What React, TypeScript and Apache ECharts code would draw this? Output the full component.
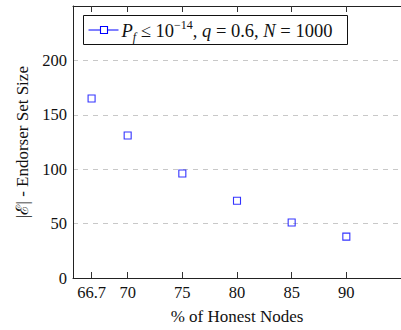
import React, { useEffect, useRef } from "react";
import * as echarts from "echarts";

const honestPct = [66.7, 70, 75, 80, 85, 90];
const endorserSize = [165, 131, 96, 71, 51, 38];
const xTicks = [66.7, 70, 75, 80, 85, 90];
const yTicks = [0, 50, 100, 150, 200];

const FONT = "Liberation Serif";

export default function App() {
  const ref = useRef<HTMLDivElement>(null);
  useEffect(() => {
    if (!ref.current) return;
    const chart = echarts.init(ref.current, null, { renderer: "svg" });
    const axisLineStyle = { color: "#222", width: 1 };
    const tickStyle = { color: "#333", width: 1 };
    chart.setOption({
      animation: false,
      backgroundColor: "#fff",
      grid: { left: 73, top: 6, right: -9, bottom: 44, containLabel: false },
      xAxis: [
        {
          type: "value",
          min: 65,
          max: 95,
          position: "bottom",
          name: "% of Honest Nodes",
          nameLocation: "middle",
          nameGap: 30,
          nameTextStyle: { fontFamily: FONT, fontSize: 17, color: "#111" },
          axisLine: { show: true, onZero: false, lineStyle: axisLineStyle },
          axisTick: { show: true, inside: true, length: 6, customValues: xTicks, lineStyle: tickStyle },
          axisLabel: {
            customValues: xTicks,
            fontFamily: FONT,
            fontSize: 16.5,
            color: "#111",
            margin: 6,
            formatter: (v: number) => String(v),
          },
          splitLine: { show: false },
        },
        {
          type: "value",
          min: 65,
          max: 95,
          position: "top",
          axisLine: { show: true, onZero: false, lineStyle: axisLineStyle },
          axisTick: { show: true, inside: true, length: 6, customValues: xTicks, lineStyle: tickStyle },
          axisLabel: { show: false },
          splitLine: { show: false },
        },
      ],
      yAxis: {
        type: "value",
        min: 0,
        max: 250,
        interval: 50,
        name: "|ℰ| - Endorser Set Size",
        nameLocation: "middle",
        nameGap: 41,
        nameTextStyle: { fontFamily: FONT, fontSize: 17, color: "#111" },
        axisLine: { show: true, onZero: false, lineStyle: axisLineStyle },
        axisTick: { show: false },
        axisLabel: {
          customValues: yTicks,
          fontFamily: FONT,
          fontSize: 16.5,
          color: "#111",
          margin: 6,
        },
        splitLine: { show: true, lineStyle: { color: "#c8c8c8", type: [5, 5], width: 1 } },
      },
      series: [
        {
          type: "scatter",
          data: honestPct.map((x, i) => [x, endorserSize[i]]),
          symbol: "rect",
          symbolSize: 7,
          itemStyle: { color: "rgba(0,0,0,0)", borderColor: "#0000ff", borderWidth: 1.1 },
          z: 5,
        },
      ],
      graphic: [
        {
          type: "group",
          left: 83,
          top: 15,
          z: 100,
          children: [
            {
              type: "rect",
              shape: { x: 0, y: 0, width: 264, height: 29 },
              style: { fill: "#fff", stroke: "#111", lineWidth: 1 },
            },
            {
              type: "line",
              shape: { x1: 5, y1: 14.5, x2: 35, y2: 14.5 },
              style: { stroke: "#0000ff", lineWidth: 1 },
            },
            {
              type: "rect",
              shape: { x: 17, y: 11, width: 7, height: 7 },
              style: { fill: "#fff", stroke: "#0000ff", lineWidth: 1.1 },
            },
            {
              type: "text",
              x: 38,
              y: 15,
              style: {
                text: "{i|P}{sub|f}{n| ≤ 10}{sup|−14}{n|, }{i|q}{n| = 0.6, }{i|N}{n| = 1000}",
                verticalAlign: "middle",
                fill: "#111",
                rich: {
                  n: { fontFamily: FONT, fontSize: 18.5, lineHeight: 24, verticalAlign: "middle" },
                  i: { fontFamily: FONT, fontSize: 18.5, fontStyle: "italic", lineHeight: 24, verticalAlign: "middle" },
                  sub: { fontFamily: FONT, fontSize: 12, fontStyle: "italic", lineHeight: 12, verticalAlign: "bottom" },
                  sup: { fontFamily: FONT, fontSize: 12, lineHeight: 12, verticalAlign: "top" },
                },
              },
            },
          ],
        },
      ],
    });
    return () => chart.dispose();
  }, []);
  return <div ref={ref} style={{ width: 401, height: 330, position: "absolute", left: 0, top: 0 }} />;
}
